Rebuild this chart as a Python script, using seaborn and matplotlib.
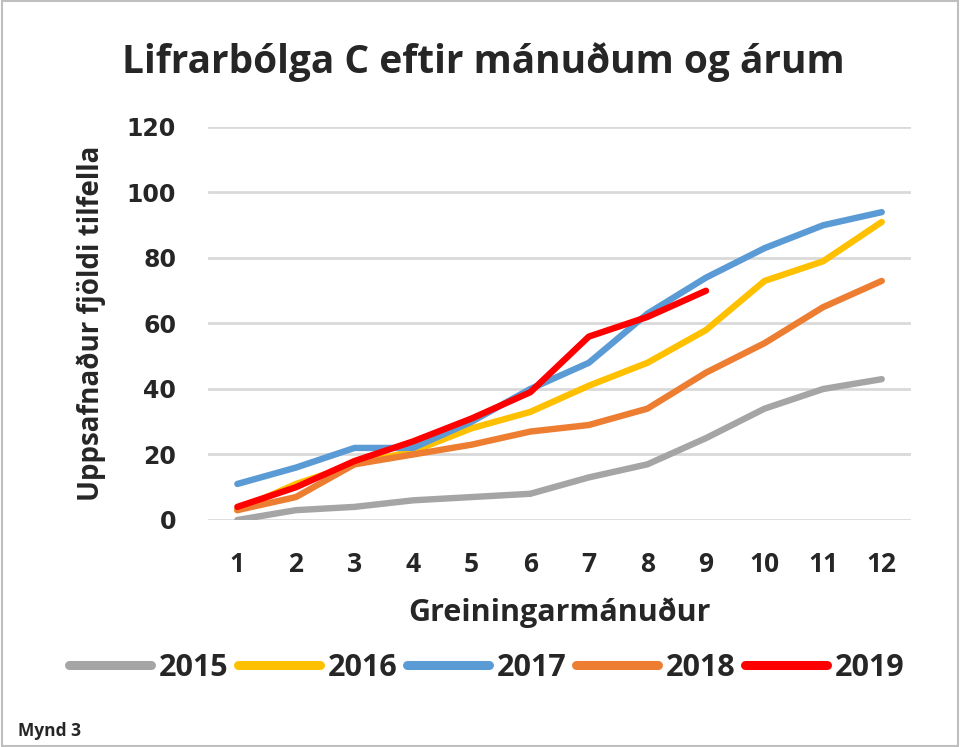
import pandas as pd
import matplotlib.pyplot as plt
import seaborn as sns
from matplotlib.patches import Rectangle

# Gögn: uppsafnaður fjöldi tilfella eftir mánuðum
months = list(range(1, 13))
years = ["2015", "2016", "2017", "2018", "2019"]
cases_2015 = [0, 3, 4, 6, 7, 8, 13, 17, 25, 34, 40, 43]
cases_2016 = [3, 11, 17, 21, 28, 33, 41, 48, 58, 73, 79, 91]
cases_2017 = [11, 16, 22, 22, 30, 40, 48, 63, 74, 83, 90, 94]
cases_2018 = [3, 7, 17, 20, 23, 27, 29, 34, 45, 54, 65, 73]
cases_2019 = [4, 10, 18, 24, 31, 39, 56, 62, 70]
colors = ["#a5a5a5", "#ffc000", "#5b9bd5", "#ed7d31", "#ff0000"]

series = [cases_2015, cases_2016, cases_2017, cases_2018, cases_2019]
rows = []
for yr, vals in zip(years, series):
    for m, v in zip(months, vals):
        rows.append({"Mánuður": m, "Fjöldi": v, "Ár": yr})
df = pd.DataFrame(rows)

sns.set_style("white")
plt.rcParams['font.family'] = ['Open Sans', 'DejaVu Sans']

fig = plt.figure(figsize=(9.6, 7.47), dpi=100)
ax = fig.add_axes([0.2167, 0.3039, 0.7323, 0.5261])

sns.lineplot(data=df, x="Mánuður", y="Fjöldi", hue="Ár", palette=colors,
             linewidth=4.6, ax=ax, legend=False)
for line in ax.get_lines():
    line.set_solid_capstyle('round')

ax.set_xlim(0.5, 12.5)
ax.set_ylim(0, 120)
ax.set_yticks(range(0, 121, 20))
ax.set_xticks(months)
ax.set_xticklabels([str(m) for m in months])
ax.yaxis.grid(True, color="#d9d9d9", linewidth=2)
ax.set_axisbelow(True)
for s in ax.spines.values():
    s.set_visible(False)
ax.tick_params(axis='both', length=0)
ax.tick_params(axis='x', pad=22, labelsize=19)
ax.tick_params(axis='y', pad=23, labelsize=17)
for lbl in ax.get_xticklabels():
    lbl.set_fontweight('bold')
for lbl in ax.get_yticklabels():
    lbl.set_fontweight('bold')
    lbl.set_family('DejaVu Sans')

ax.set_xlabel("Greiningarmánuður", fontsize=22, fontweight='bold', labelpad=14)
ax.set_ylabel("Uppsafnaður fjöldi tilfella", fontsize=20, fontweight='bold', labelpad=15)

fig.text(0.503, 0.917, "Lifrarbólga C eftir mánuðum og árum", ha='center', va='center',
         fontsize=28, fontweight='bold')

handles = [plt.Line2D([0], [0], color=c, lw=6.5, solid_capstyle='round') for c in colors]
fig.legend(handles, years, loc='center', bbox_to_anchor=(0.507, 0.106), ncol=5,
           frameon=False, prop={'weight': 'bold', 'size': 22},
           handlelength=2.7, handletextpad=0.25, columnspacing=0.3)

fig.text(0.019, 0.022, "Mynd 3", fontsize=12.5, fontweight='bold', va='center')

fig.patches.append(Rectangle((0.002, 0.002), 0.996, 0.996, transform=fig.transFigure,
                             fill=False, edgecolor="#bfbfbf", linewidth=1.5))

fig.savefig("out.png", dpi=100)
